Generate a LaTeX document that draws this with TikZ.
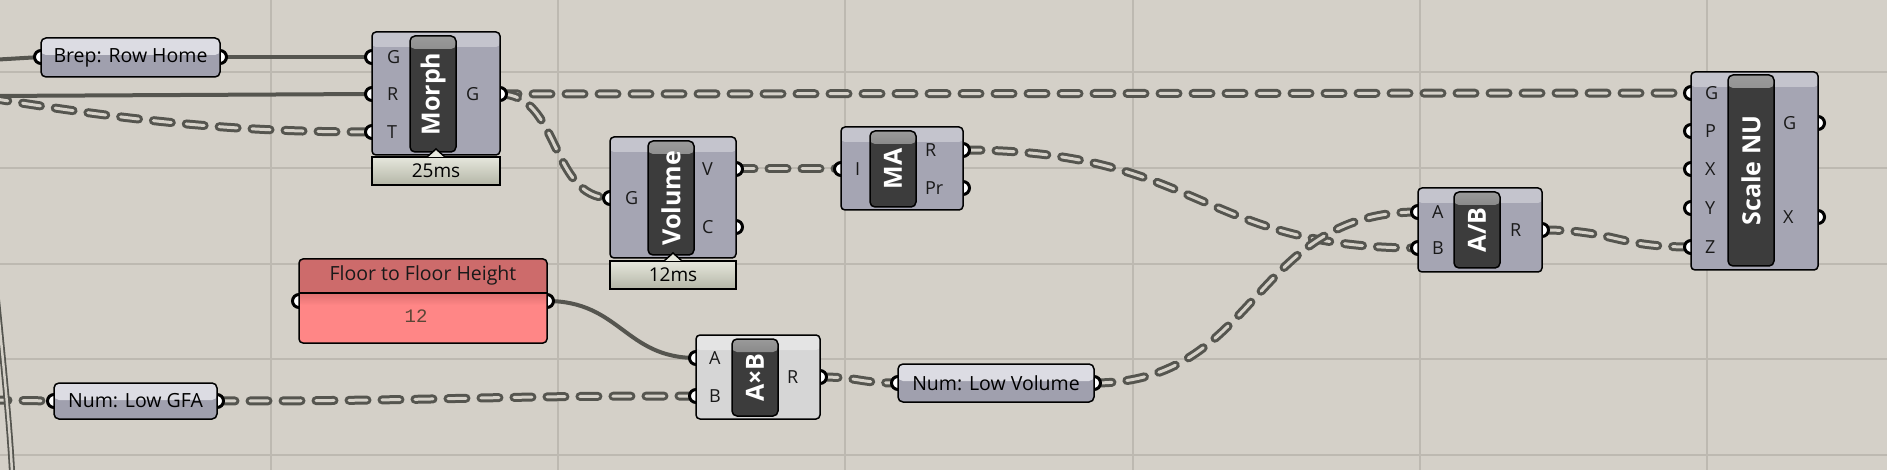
\documentclass[tikz,border=0pt]{standalone}
\usepackage{fontspec}
\setmainfont{Open Sans}
\newfontfamily\valuefont{Liberation Mono}
\usepackage{tikz}
\usetikzlibrary{positioning}

\definecolor{canvas}{HTML}{D4D0C8}
\definecolor{gridgray}{HTML}{BDB9B1}
\definecolor{wiredark}{HTML}{55554F}
\definecolor{wirelight}{HTML}{D6D2CA}
\definecolor{compbody}{HTML}{A5A5B3}
\definecolor{bodylight}{HTML}{D6D6D6}
\definecolor{boxdark}{HTML}{3C3C3C}
\definecolor{boxtop}{HTML}{9A9A9A}
\definecolor{timertop}{HTML}{E6E7DD}
\definecolor{timerbot}{HTML}{B4B6A6}
\definecolor{paramtop}{HTML}{DCDCE3}
\definecolor{parambot}{HTML}{A0A0AE}
\definecolor{floortop}{HTML}{CD6B6B}
\definecolor{floorlow}{HTML}{FF8686}
\definecolor{floorshade}{HTML}{DD7070}
\definecolor{valbrown}{HTML}{5B4636}

\pgfdeclarelayer{back}
\pgfsetlayers{back,main}

\begin{document}
\begin{tikzpicture}[x=1pt, y=-1pt,
    every node/.style={inner sep=0pt, outer sep=0pt},
    grid line/.style={draw=gridgray, line width=1.5pt},
    wire/.style={draw=wiredark, line width=4pt},
    dwire/.style={draw=wiredark, line width=9pt, line cap=round, dash pattern=on 18pt off 15pt,
        postaction={draw=wirelight, line width=3pt, line cap=round, dash pattern=on 18pt off 15pt}},
    lwire/.style={draw=wiredark, line width=1.8pt, double=canvas, double distance=2.5pt},
    port/.style={circle, draw=black, fill=white, line width=3pt, minimum size=13pt},
    comp/.style={rectangle, draw=black, line width=1.5pt, rounded corners=4pt, fill=compbody,
        path picture={\fill[white, opacity=.35] (path picture bounding box.north west) rectangle ([yshift=-15pt]path picture bounding box.north east);}},
    cbox/.style={rectangle, draw=black, line width=1.5pt, rounded corners=5pt, fill=boxdark, minimum width=46pt,
        path picture={\shade[top color=boxtop, bottom color=boxdark] (path picture bounding box.north west) rectangle ([yshift=-13pt]path picture bounding box.north east);}},
    cname/.style={rotate=90, text=white, font=\bfseries\fontsize{25}{25}\selectfont},
    plabel/.style={text=black!90, font=\fontsize{18}{18}\selectfont},
    param/.style={rectangle, draw=black, line width=1.5pt, rounded corners=5pt, fill=parambot,
        font=\fontsize{19.5}{19.5}\selectfont,
        path picture={\fill[paramtop] (path picture bounding box.north west) rectangle ([yshift=-17pt]path picture bounding box.north east);}},
    timer/.style={rectangle, draw=black, line width=1.5pt, top color=timertop, bottom color=timerbot,
        minimum height=28pt, font=\fontsize{19}{19}\selectfont},
    notch/.style={fill=timertop, draw=black, line width=1.5pt},
    panel/.style={rectangle, draw=black, line width=1.5pt, rounded corners=4pt, fill=floorlow,
        path picture={\fill[floortop] (path picture bounding box.north west) rectangle ([yshift=-34pt]path picture bounding box.north east);
            \shade[top color=floorshade, bottom color=floorlow] ([yshift=-34pt]path picture bounding box.north west) rectangle ([yshift=-46pt]path picture bounding box.north east);
            \draw[line width=1.5pt] ([yshift=-34pt]path picture bounding box.north west) -- ([yshift=-34pt]path picture bounding box.north east);}}]

    \useasboundingbox (0,0) rectangle (1887,470);
    \begin{pgfonlayer}{back}
        \fill[canvas] (0,0) rectangle (1887,470);
        \draw[grid line] (271,0) -- (271,470) (558,0) -- (558,470) (845,0) -- (845,470)
            (1133,0) -- (1133,470) (1420,0) -- (1420,470) (1707,0) -- (1707,470)
            (0,72) -- (1887,72) (0,168) -- (1887,168) (0,264) -- (1887,264)
            (0,359) -- (1887,359) (0,455) -- (1887,455);
    \end{pgfonlayer}

    \node[port] (brep-in) at (41,57) {};
    \node[port] (brep-out) at (220,57) {};
    \node[port] (morph-g) at (372,57) {};
    \node[port] (morph-r) at (372,94) {};
    \node[port] (morph-t) at (372,132) {};
    \node[port] (morph-out) at (500,94) {};
    \node[port] (vol-g) at (610,198) {};
    \node[port] (vol-v) at (736,169) {};
    \node[port] (vol-c) at (736,227) {};
    \node[port] (ma-i) at (841,169) {};
    \node[port] (ma-r) at (963,150) {};
    \node[port] (ma-pr) at (963,188) {};
    \node[port] (div-a) at (1418,212) {};
    \node[port] (div-b) at (1418,248) {};
    \node[port] (div-r) at (1542,230) {};
    \node[port] (scale-g) at (1691,93) {};
    \node[port] (scale-p) at (1691,131) {};
    \node[port] (scale-x) at (1691,169) {};
    \node[port] (scale-y) at (1691,208) {};
    \node[port] (scale-z) at (1691,247) {};
    \node[port] (scale-go) at (1818,123) {};
    \node[port] (scale-xo) at (1818,217) {};
    \node[port] (floor-in) at (299,301) {};
    \node[port] (floor-out) at (547,301) {};
    \node[port] (gfa-in) at (54,401) {};
    \node[port] (gfa-out) at (217,401) {};
    \node[port] (mul-a) at (696,358) {};
    \node[port] (mul-b) at (696,396) {};
    \node[port] (mul-r) at (820,377) {};
    \node[port] (lowvol-in) at (898,383) {};
    \node[port] (lowvol-out) at (1094,383) {};

    \coordinate (src-a) at (-10,60);
    \coordinate (src-b) at (-10,96);
    \coordinate (src-c) at (-10,98);
    \coordinate (src-d) at (-10,400);
    \coordinate (lst-a) at (-3,300);
    \coordinate (lst-b) at (12,472);

    \begin{pgfonlayer}{back}
        \draw[wire] (src-a) -- (brep-in.center);
        \draw[wire] (brep-out.center) -- (morph-g.center);
        \draw[wire] (src-b) -- (morph-r.center);
        \draw[dwire] (src-c) .. controls (150,124) and (250,132) .. (morph-t.center);
        \draw[dwire] (morph-out.center) -- (scale-g.center);
        \draw[dwire] (morph-out.center) .. controls (560,94) and (550,198) .. (vol-g.center);
        \draw[dwire] (vol-v.center) -- (ma-i.center);
        \draw[dwire] (ma-r.center) .. controls (1200,150) and (1200,248) .. (div-b.center);
        \draw[dwire] (lowvol-out.center) .. controls (1260,383) and (1250,212) .. (div-a.center);
        \draw[dwire] (div-r.center) .. controls (1615,230) and (1615,247) .. (scale-z.center);
        \draw[wire] (floor-out.center) .. controls (620,301) and (625,358) .. (mul-a.center);
        \draw[dwire] (gfa-out.center) .. controls (450,401) and (460,396) .. (mul-b.center);
        \draw[dwire] (src-d) -- (gfa-in.center);
        \draw[dwire] (mul-r.center) .. controls (860,377) and (858,383) .. (lowvol-in.center);
        \draw[lwire] (lst-a) .. controls (4,370) and (10,430) .. (lst-b);
    \end{pgfonlayer}

    \node[param, minimum width=179pt, minimum height=39pt] (brep) at (130.5,57.5) {Brep: Row Home};
    \node[param, minimum width=163pt, minimum height=36pt] (gfa) at (135.5,401) {Num: Low GFA};
    \node[param, minimum width=196pt, minimum height=38pt] (lowvol) at (996,383) {Num: Low Volume};

    \node[panel, minimum width=248pt, minimum height=84pt] (floor) at (423,301) {};
    \node[font=\fontsize{19.5}{19.5}\selectfont, text=black!90] (floor-title) at (423,275) {Floor to Floor Height};
    \node[font=\valuefont\fontsize{19}{19}\selectfont, text=valbrown] (floor-val) at (416,316) {12};

    \node[comp, minimum width=128pt, minimum height=123pt] (morph) at (436,93.5) {};
    \node[cbox, minimum height=116pt] (morph-box) at (433,94) {};
    \node[cname] (morph-name) at (morph-box) {Morph};
    \node[timer, minimum width=128pt, below=2pt of morph] (morph-time) {25ms};
    \draw[notch] ([xshift=-9pt]morph-time.north) -- ([yshift=8pt]morph-time.north) -- ([xshift=9pt]morph-time.north);

    \node[comp, minimum width=126pt, minimum height=121pt] (vol) at (673,197.5) {};
    \node[cbox, minimum height=114pt] (vol-box) at (671,198) {};
    \node[cname] (vol-name) at (vol-box) {Volume};
    \node[timer, minimum width=126pt, below=3pt of vol] (vol-time) {12ms};
    \draw[notch] ([xshift=-9pt]vol-time.north) -- ([yshift=8pt]vol-time.north) -- ([xshift=9pt]vol-time.north);

    \node[comp, minimum width=122pt, minimum height=83pt] (ma) at (902,168.5) {};
    \node[cbox, minimum height=76pt] (ma-box) at (893,169) {};
    \node[cname] (ma-name) at (ma-box) {MA};

    \node[comp, minimum width=124pt, minimum height=84pt] (div) at (1480,230) {};
    \node[cbox, minimum height=76pt] (div-box) at (1477,230) {};
    \node[cname] (div-name) at (div-box) {A/B};

    \node[comp, minimum width=127pt, minimum height=198pt] (scale) at (1754.5,171) {};
    \node[cbox, minimum height=191pt] (scale-box) at (1751,170.5) {};
    \node[cname] (scale-name) at (scale-box) {Scale NU};

    \node[comp, fill=bodylight, minimum width=124pt, minimum height=84pt] (mul) at (758,377) {};
    \node[cbox, minimum height=77pt] (mul-box) at (755,377.5) {};
    \node[cname] (mul-name) at (mul-box) {A×B};

    \node[plabel, right=15pt of morph-g.center] (morph-g-l) {G};
    \node[plabel, right=15pt of morph-r.center] (morph-r-l) {R};
    \node[plabel, right=15pt of morph-t.center] (morph-t-l) {T};
    \node[plabel, anchor=west] (morph-out-l) at (466,94) {G};
    \node[plabel, right=15pt of vol-g.center] (vol-g-l) {G};
    \node[plabel, anchor=west] (vol-v-l) at (702,169) {V};
    \node[plabel, anchor=west] (vol-c-l) at (702,227) {C};
    \node[plabel, right=14pt of ma-i.center] (ma-i-l) {I};
    \node[plabel, anchor=west] (ma-r-l) at (925,150) {R};
    \node[plabel, anchor=west] (ma-pr-l) at (925,188) {Pr};
    \node[plabel, right=14pt of div-a.center] (div-a-l) {A};
    \node[plabel, right=14pt of div-b.center] (div-b-l) {B};
    \node[plabel, anchor=west] (div-r-l) at (1510,230) {R};
    \node[plabel, right=14pt of scale-g.center] (scale-g-l) {G};
    \node[plabel, right=14pt of scale-p.center] (scale-p-l) {P};
    \node[plabel, right=14pt of scale-x.center] (scale-x-l) {X};
    \node[plabel, right=14pt of scale-y.center] (scale-y-l) {Y};
    \node[plabel, right=14pt of scale-z.center] (scale-z-l) {Z};
    \node[plabel, anchor=west] (scale-go-l) at (1783,123) {G};
    \node[plabel, anchor=west] (scale-xo-l) at (1783,217) {X};
    \node[plabel, right=13pt of mul-a.center] (mul-a-l) {A};
    \node[plabel, right=13pt of mul-b.center] (mul-b-l) {B};
    \node[plabel, anchor=west] (mul-r-l) at (787,377) {R};
\end{tikzpicture}
\end{document}
